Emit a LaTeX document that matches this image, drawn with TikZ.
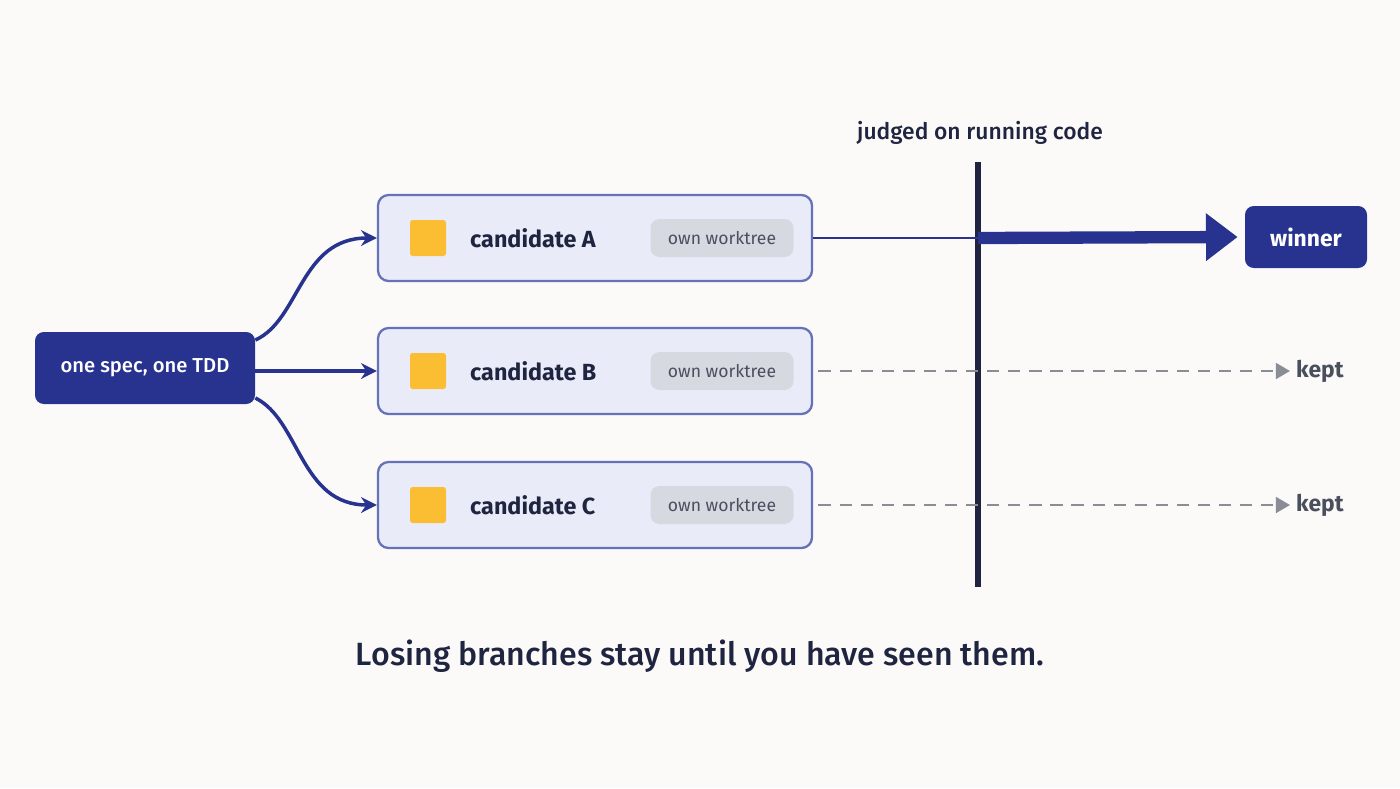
\documentclass[tikz,border=0pt]{standalone}
\usepackage{fontspec}
\setmainfont{Fira Sans}
\newfontfamily\medf{Fira Sans Medium}
\usetikzlibrary{arrows.meta}
\definecolor{bg}{HTML}{FBFAF8}
\definecolor{navy}{HTML}{27338F}
\definecolor{cfill}{HTML}{E9ECF8}
\definecolor{cedge}{HTML}{6571B8}
\definecolor{yel}{HTML}{FBBD31}
\definecolor{pill}{HTML}{D7D9E1}
\definecolor{pilltxt}{HTML}{4A4F5E}
\definecolor{dark}{HTML}{1F2540}
\definecolor{gry}{HTML}{8A8D96}
\begin{document}
\begin{tikzpicture}[x=0.02cm,y=-0.02cm,
  cand/.style={draw=cedge,line width=1.3pt,fill=cfill,rounded corners=6pt,minimum width=434*0.02cm,minimum height=86*0.02cm},
  sq/.style={fill=yel,rounded corners=1.5pt,minimum size=36*0.02cm,inner sep=0},
  ctext/.style={font=\bfseries\fontsize{13.3}{15}\selectfont,text=dark,anchor=west},
  pl/.style={fill=pill,rounded corners=5pt,minimum width=143*0.02cm,minimum height=38*0.02cm,font=\fontsize{10}{11}\selectfont,text=pilltxt},
  dk/.style={fill=navy,rounded corners=5pt,text=white},
  flow/.style={draw=navy,line width=2pt,-{Stealth[length=9pt,width=9pt]}},
  keptline/.style={draw=gry,line width=1.3pt,dash pattern=on 7pt off 5pt,-{Triangle[length=8pt,width=9pt]}},
  kept/.style={font=\bfseries\fontsize{13}{15}\selectfont,text=pilltxt,anchor=west}]
\fill[bg] (0,0) rectangle (1400,788);
\useasboundingbox (0,0) rectangle (1400,788);
\node[dk,minimum width=220*0.02cm,minimum height=72*0.02cm,font=\medf\fontsize{11.5}{13}\selectfont] (spec) at (145,368) {one spec, one TDD};
\foreach \n/\y/\l in {A/238/A,B/371/B,C/505/C}{
  \node[cand] (c\n) at (595,\y) {};
  \node[sq] (s\n) at (428,\y) {};
  \node[ctext] (t\n) at (464,\y) {candidate \l};
  \node[pl] (p\n) at (722,\y) {own worktree};
}
\coordinate (top) at (978,162);
\coordinate (bot) at (978,587);
\draw[dark,line width=3pt] (top) -- (bot);
\node[font=\medf\fontsize{13}{15}\selectfont,text=dark] (judge) at (980,133) {judged on running code};
\node[dk,minimum width=122*0.02cm,minimum height=62*0.02cm,font=\bfseries\fontsize{13}{15}\selectfont] (win) at (1306,237) {winner};
\draw[flow] (spec.east|-0,340) .. controls (300,320) and (300,238) .. (cA.west);
\draw[flow] (spec.east|-0,371) -- (cB.west);
\draw[flow] (spec.east|-0,398) .. controls (300,420) and (300,505) .. (cC.west);
\coordinate (cut) at (978,238);
\draw[navy,line width=1.5pt] (cA.east) -- (cut);
\draw[navy,line width=7pt,-{Triangle[length=18pt,width=26pt]}] (cut) -- ([xshift=-4pt]win.west);
\node[kept] (kB) at (1290,371) {kept};
\node[kept] (kC) at (1290,505) {kept};
\draw[keptline] ([xshift=3pt]cB.east) -- (kB.west);
\draw[keptline] ([xshift=3pt]cC.east) -- (kC.west);
\node[font=\medf\fontsize{18.3}{21}\selectfont,text=dark] (cap) at (700,656) {Losing branches stay until you have seen them.};
\end{tikzpicture}
\end{document}
